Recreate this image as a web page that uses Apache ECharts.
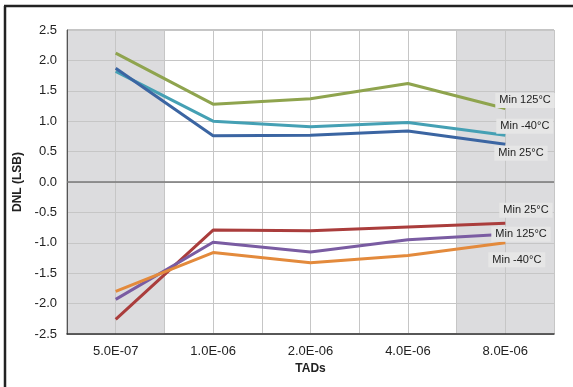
<!DOCTYPE html>
<html><head><meta charset="utf-8">
<script src="https://cdn.jsdelivr.net/npm/echarts@6/dist/echarts.min.js"></script>
<style>html,body{margin:0;padding:0;background:#fff}#c{width:573px;height:387px}</style>
</head><body><div id="c"></div>
<script>
const categories = ['5.0E-07','1.0E-06','2.0E-06','4.0E-06','8.0E-06'];
const yTicks = {min:-2.5, max:2.5, interval:0.5};
const min125 = [2.12, 1.28, 1.37, 1.62, 1.21];
const minN40 = [1.82, 1.00, 0.91, 0.98, 0.77];
const min25 = [1.87, 0.76, 0.77, 0.84, 0.62];
const low25 = [-2.26, -0.79, -0.80, -0.74, -0.68];
const low125 = [-1.93, -0.99, -1.15, -0.95, -0.86];
const lowN40 = [-1.80, -1.16, -1.33, -1.21, -1.00];
const names = ['Min 125°C','Min -40°C','Min 25°C','Min 25°C','Min 125°C','Min -40°C'];
const colors = ['#8fa44e','#45a0b4','#3b65a2','#aa3d3c','#7a5ca2','#e38a3c'];
const labelOffsets = [[-10,-8],[-9,-9],[-11,9],[-6,-13],[-14,0],[-17,17]];
const dataSets = [min125, minN40, min25, low25, low125, lowN40];

const chart = echarts.init(document.getElementById('c'));
const font = 'Liberation Sans, Arial, sans-serif';
const series = dataSets.map((d,i)=>({
  type:'line', data:d, symbol:'none', z:3,
  lineStyle:{color:colors[i], width:3},
  itemStyle:{color:colors[i]},
  endLabel:{show:true, formatter:names[i], distance:0, offset:labelOffsets[i],
    color:'#222', fontFamily:font, fontSize:11, backgroundColor:'#e6e6e6', padding:[2,4,2,4]}
}));
series.push({
  type:'line', xAxisIndex:1, data:[], silent:true, z:1,
  markArea:{silent:true, z:1, itemStyle:{color:'#dcdcde'},
    data:[[{xAxis:0},{xAxis:1}],[{xAxis:4},{xAxis:5}]]},
  markLine:{silent:true, symbol:'none', z:2, label:{show:false},
    lineStyle:{color:'#777', width:1.5, type:'solid'}, data:[{yAxis:0}]}
});
chart.setOption({
  animation:false,
  grid:{left:67, right:19, top:30, bottom:53, show:true, borderColor:'#8a8a8a', borderWidth:1},
  graphic:[
    {type:'line', shape:{x1:4, y1:6, x2:573, y2:6}, style:{stroke:'#222', lineWidth:2.5}},
    {type:'line', shape:{x1:5, y1:6, x2:5, y2:387}, style:{stroke:'#222', lineWidth:2.5}}
  ],
  xAxis:[{
    type:'category', data:categories, boundaryGap:true, z:2,
    axisLine:{onZero:false, lineStyle:{color:'#333', width:1.5}},
    axisTick:{show:false}, splitLine:{show:false},
    axisLabel:{color:'#222', fontFamily:font, fontSize:13, margin:11},
    name:'TADs', nameLocation:'middle', nameGap:29,
    nameTextStyle:{color:'#222', fontFamily:font, fontSize:12, fontWeight:'bold'}
  },{
    type:'value', min:0, max:5, interval:0.5, show:true, z:1.5,
    axisLine:{show:false}, axisTick:{show:false}, axisLabel:{show:false},
    splitLine:{show:true, lineStyle:{color:'#c6c6c6', width:1}}
  }],
  yAxis:{
    type:'value', min:yTicks.min, max:yTicks.max, interval:yTicks.interval, z:1.5,
    axisLine:{show:true, lineStyle:{color:'#555', width:1}},
    axisTick:{show:false},
    splitLine:{show:true, lineStyle:{color:'#c6c6c6', width:1}},
    axisLabel:{color:'#222', fontFamily:font, fontSize:13, margin:10, formatter:v=>v.toFixed(1)},
    name:'DNL (LSB)', nameLocation:'middle', nameGap:43,
    nameTextStyle:{color:'#222', fontFamily:font, fontSize:12, fontWeight:'bold'}
  },
  series:series
});
</script></body></html>
